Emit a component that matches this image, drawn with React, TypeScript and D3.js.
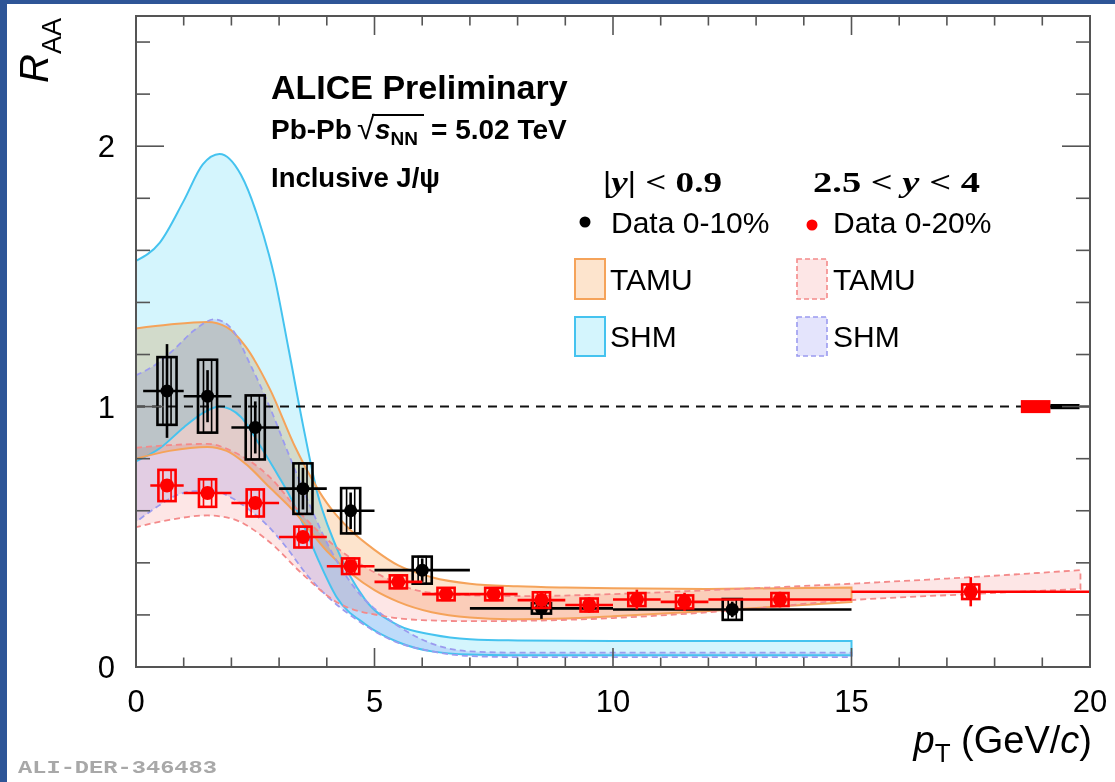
import React from 'react';
import * as d3 from 'd3';

const W = 1115;
const H = 782;

// ---------- Data: |y| < 0.9, 0-10% ----------
const midPt = [0.65, 1.5, 2.5, 3.5, 4.5, 6.0, 8.5, 12.5];
const midLo = [0.15, 1, 2, 3, 4, 5, 7, 10];
const midHi = [1, 2, 3, 4, 5, 7, 10, 15];
const midRaa = [1.06, 1.04, 0.92, 0.685, 0.6, 0.372, 0.225, 0.221];
const midStat = [0.18, 0.1, 0.1, 0.08, 0.07, 0.045, 0.04, 0.03];
const midSyst = [0.13, 0.14, 0.123, 0.097, 0.087, 0.052, 0.02, 0.04];

// ---------- Data: 2.5 < y < 4, 0-20% ----------
const fwdPt = [0.65, 1.5, 2.5, 3.5, 4.5, 5.5, 6.5, 7.5, 8.5, 9.5, 10.5, 11.5, 13.5, 17.5];
const fwdLo = [0.3, 1, 2, 3, 4, 5, 6, 7, 8, 9, 10, 11, 12, 15];
const fwdHi = [1, 2, 3, 4, 5, 6, 7, 8, 9, 10, 11, 12, 15, 20];
const fwdRaa = [0.697, 0.668, 0.63, 0.499, 0.387, 0.327, 0.28, 0.28, 0.257, 0.238, 0.259, 0.25, 0.259, 0.289];
const fwdStat = [0.02, 0.02, 0.02, 0.02, 0.02, 0.02, 0.02, 0.02, 0.03, 0.03, 0.038, 0.035, 0.03, 0.056];
const fwdSyst = [0.06, 0.053, 0.052, 0.04, 0.03, 0.025, 0.024, 0.024, 0.03, 0.025, 0.025, 0.025, 0.025, 0.028];

// Global uncertainties at R_AA = 1
const globFwd = { lo: 18.55, hi: 19.17, err: 0.025 };
const globMid = { lo: 19.17, hi: 19.78, err: 0.01 };

// ---------- Model bands ----------
// SHM, |y|<0.9
const shmMidX = [0, 0.5, 1.0, 1.4, 1.75, 2.2, 2.55, 2.9, 3.2, 3.5, 3.8, 4.2, 4.8, 5.5, 6.2, 7, 8, 10, 12, 15];
const shmMidHi = [1.56, 1.63, 1.79, 1.93, 1.97, 1.89, 1.73, 1.5, 1.22, 0.93, 0.67, 0.46, 0.26, 0.16, 0.125, 0.107, 0.102, 0.1, 0.1, 0.1];
const shmMidLo = [0.79, 0.84, 0.92, 0.975, 1.0, 0.96, 0.865, 0.76, 0.665, 0.55, 0.42, 0.27, 0.165, 0.095, 0.06, 0.048, 0.045, 0.045, 0.045, 0.045];

// SHM, 2.5<y<4
const shmFwdX = [0, 0.4, 0.8, 1.2, 1.65, 2.0, 2.4, 2.8, 3.15, 3.6, 4.05, 4.6, 5.4, 6.2, 7, 8, 10, 12, 15];
const shmFwdHi = [1.12, 1.16, 1.22, 1.29, 1.335, 1.3, 1.16, 1.0, 0.84, 0.64, 0.46, 0.3, 0.17, 0.09, 0.06, 0.055, 0.055, 0.055, 0.055];
const shmFwdLo = [0.557, 0.61, 0.655, 0.675, 0.675, 0.65, 0.6, 0.535, 0.46, 0.35, 0.265, 0.185, 0.1, 0.06, 0.042, 0.038, 0.038, 0.038, 0.038];

// TAMU, |y|<0.9
const tamuMidX = [0, 0.7, 1.5, 1.9, 2.3, 2.8, 3.35, 4.0, 4.5, 5.0, 5.5, 6.2, 7, 8, 9, 10, 12, 15];
const tamuMidHi = [1.3, 1.315, 1.325, 1.305, 1.23, 1.07, 0.84, 0.63, 0.525, 0.45, 0.39, 0.345, 0.32, 0.31, 0.305, 0.302, 0.3, 0.305];
const tamuMidLo = [0.8, 0.83, 0.845, 0.83, 0.78, 0.69, 0.59, 0.445, 0.36, 0.295, 0.25, 0.21, 0.19, 0.183, 0.186, 0.195, 0.215, 0.25];

// TAMU, 2.5<y<4
const tamuFwdX = [0, 0.7, 1.5, 2.0, 2.8, 3.5, 4.2, 5.2, 6.0, 7, 8, 10, 12, 15, 17.5, 19.8];
const tamuFwdHi = [0.842, 0.852, 0.857, 0.83, 0.73, 0.58, 0.46, 0.345, 0.29, 0.275, 0.272, 0.28, 0.295, 0.32, 0.345, 0.372];
const tamuFwdLo = [0.537, 0.565, 0.582, 0.57, 0.48, 0.355, 0.25, 0.195, 0.18, 0.176, 0.177, 0.188, 0.21, 0.257, 0.28, 0.3];

// Axis ticks
const xTickLabels = [0, 5, 10, 15, 20];
const yTickLabels = [0, 1, 2];

const SANS = '"Liberation Sans", Arial, Helvetica, sans-serif';
const SERIF = '"Liberation Serif", "Times New Roman", serif';

const x = d3.scaleLinear().domain([0, 20]).range([136, 1090]);
const y = d3.scaleLinear().domain([0, 2.5]).range([667, 16]);

const C = {
  cyanFill: 'rgb(212,245,253)',
  cyanLine: '#45c3ef',
  orangeFill: 'rgb(253,228,205)',
  orangeLine: '#f5a35a',
  pinkFill: 'rgb(253,230,230)',
  pinkLine: '#f48a8a',
  purpleFill: 'rgb(228,228,252)',
  purpleLine: '#9b9bef',
  red: '#ff0000',
  frame: '#555',
};

function bandPath(xs: number[], lo: number[], hi: number[]) {
  const a = d3
    .area<number>()
    .x((d) => x(d))
    .y0((_, i) => y(lo[i]))
    .y1((_, i) => y(hi[i]))
    .curve(d3.curveMonotoneX);
  return a(xs) || '';
}

const bands = [
  { xs: shmMidX, lo: shmMidLo, hi: shmMidHi, fill: C.cyanFill, line: C.cyanLine, dash: undefined },
  { xs: tamuMidX, lo: tamuMidLo, hi: tamuMidHi, fill: C.orangeFill, line: C.orangeLine, dash: undefined },
  { xs: shmFwdX, lo: shmFwdLo, hi: shmFwdHi, fill: C.purpleFill, line: C.purpleLine, dash: '6,4' },
  { xs: tamuFwdX, lo: tamuFwdLo, hi: tamuFwdHi, fill: C.pinkFill, line: C.pinkLine, dash: '6,4' },
];

function Points({ pt, lo, hi, raa, stat, syst, color, boxHalf, r }: any) {
  return (
    <g>
      {pt.map((p: number, i: number) => {
        const cx = x(p);
        const cy = y(raa[i]);
        const bw = x(p + boxHalf) - cx;
        const iw = x(p + 0.085) - cx;
        const top = y(raa[i] + syst[i]);
        const bot = y(raa[i] - syst[i]);
        return (
          <g key={i}>
            <rect x={cx - bw} y={top} width={2 * bw} height={bot - top} fill="none" stroke={color} strokeWidth={2.6} />
            <rect x={cx - iw} y={top} width={2 * iw} height={bot - top} fill="none" stroke={color} strokeWidth={1.6} />
            <line x1={x(lo[i])} x2={x(hi[i])} y1={cy} y2={cy} stroke={color} strokeWidth={2.6} />
            <line x1={cx} x2={cx} y1={y(raa[i] + stat[i])} y2={y(raa[i] - stat[i])} stroke={color} strokeWidth={2.6} />
            <circle cx={cx} cy={cy} r={r} fill={color} />
          </g>
        );
      })}
    </g>
  );
}

export default function App() {
  const xMinor = d3.range(0, 21, 1);
  const yMinor = d3.range(0, 2.41, 0.2);
  return (
    <svg
      width={W}
      height={H}
      viewBox={`0 0 ${W} ${H}`}
      style={{ position: 'absolute', left: 0, top: 0, display: 'block' }}
    >
      <rect x={0} y={0} width={W} height={H} fill="#2e5597" />
      <rect x={7} y={4} width={W - 7} height={H - 4} fill="#fff" />

      {/* model bands */}
      <g>
        {bands.map((b, i) => (
          <path key={'f' + i} d={bandPath(b.xs, b.lo, b.hi)} fill={b.fill} stroke="none" style={{ mixBlendMode: 'multiply' }} />
        ))}
        {bands.map((b, i) => (
          <path
            key={'s' + i}
            d={bandPath(b.xs, b.lo, b.hi)}
            fill="none"
            stroke={b.line}
            strokeWidth={b.dash ? 1.8 : 2}
            strokeDasharray={b.dash}
          />
        ))}
      </g>

      {/* unity line */}
      <line x1={x(0)} x2={x(20)} y1={y(1)} y2={y(1)} stroke="#111" strokeWidth={2} strokeDasharray="9,7" />

      {/* data */}
      <Points pt={midPt} lo={midLo} hi={midHi} raa={midRaa} stat={midStat} syst={midSyst} color="#000" boxHalf={0.2} r={6.5} />
      <Points pt={fwdPt} lo={fwdLo} hi={fwdHi} raa={fwdRaa} stat={fwdStat} syst={fwdSyst} color={C.red} boxHalf={0.18} r={7} />

      {/* global uncertainties */}
      <rect x={x(globFwd.lo)} y={y(1 + globFwd.err)} width={x(globFwd.hi) - x(globFwd.lo)} height={y(1 - globFwd.err) - y(1 + globFwd.err)} fill={C.red} />
      <rect x={x(globMid.lo)} y={y(1 + globMid.err)} width={x(globMid.hi) - x(globMid.lo)} height={y(1 - globMid.err) - y(1 + globMid.err)} fill="#000" />

      {/* frame and ticks */}
      <rect x={x(0)} y={y(2.5)} width={x(20) - x(0)} height={y(0) - y(2.5)} fill="none" stroke={C.frame} strokeWidth={2} />
      {xMinor.map((v) => {
        const len = v % 5 === 0 ? 19 : 9.5;
        return (
          <g key={'xt' + v}>
            <line x1={x(v)} x2={x(v)} y1={y(0)} y2={y(0) - len} stroke={C.frame} strokeWidth={1.6} />
            <line x1={x(v)} x2={x(v)} y1={y(2.5)} y2={y(2.5) + len} stroke={C.frame} strokeWidth={1.6} />
          </g>
        );
      })}
      {yMinor.map((v) => {
        const major = Math.abs(v - Math.round(v)) < 1e-6;
        const len = major ? 28 : 14;
        return (
          <g key={'yt' + v}>
            <line x1={x(0)} x2={x(0) + len} y1={y(v)} y2={y(v)} stroke={C.frame} strokeWidth={1.6} />
            <line x1={x(20)} x2={x(20) - len} y1={y(v)} y2={y(v)} stroke={C.frame} strokeWidth={1.6} />
          </g>
        );
      })}

      {/* tick labels */}
      {xTickLabels.map((v) => (
        <text key={'xl' + v} x={x(v)} y={712} textAnchor="middle" fontFamily={SANS} fontSize={31} fill="#000">
          {v}
        </text>
      ))}
      {yTickLabels.map((v) => (
        <text key={'yl' + v} x={115} y={y(v) + 11} textAnchor="end" fontFamily={SANS} fontSize={31} fill="#000">
          {v}
        </text>
      ))}

      {/* axis titles */}
      <text transform="translate(48,83) rotate(-90)" fontFamily={SANS} fontSize={40} fill="#000">
        <tspan fontStyle="italic">R</tspan>
        <tspan fontSize={27} dy={13}>AA</tspan>
      </text>
      <text x={1092} y={753} textAnchor="end" fontFamily={SANS} fontSize={38} fill="#000">
        <tspan fontStyle="italic">p</tspan>
        <tspan fontSize={26} dy={9}>T</tspan>
        <tspan dy={-9}> (GeV/</tspan>
        <tspan fontStyle="italic">c</tspan>
        <tspan>)</tspan>
      </text>

      {/* header texts */}
      <text x={271} y={99} fontFamily={SANS} fontWeight="bold" fontSize={34} fill="#000">
        ALICE Preliminary
      </text>
      <text y={139} fontFamily={SANS} fontWeight="bold" fontSize={28} fill="#000">
        <tspan x={271}>Pb-Pb</tspan>
        <tspan x={357} fontWeight="normal" fontSize={32}>√</tspan>
        <tspan x={375} fontStyle="italic">s</tspan>
        <tspan fontSize={19} dy={6}>NN</tspan>
        <tspan x={431} dy={-6}>= 5.02 TeV</tspan>
      </text>
      <line x1={372} x2={424} y1={115} y2={115} stroke="#000" strokeWidth={1.8} />
      <text x={271} y={187} fontFamily={SANS} fontWeight="bold" fontSize={27.5} fill="#000">
        Inclusive J/ψ
      </text>

      {/* legend */}
      <text x={603} y={192} fontFamily={SERIF} fontWeight="bold" fontSize={30} fill="#000" textLength={119} lengthAdjust="spacingAndGlyphs">
        |<tspan fontStyle="italic">y</tspan>| &lt; 0.9
      </text>
      <text x={813} y={192} fontFamily={SERIF} fontWeight="bold" fontSize={30} fill="#000" textLength={167} lengthAdjust="spacingAndGlyphs">
        2.5 &lt;  <tspan fontStyle="italic">y</tspan> &lt; 4
      </text>

      <circle cx={585} cy={222} r={5.5} fill="#000" />
      <text x={611} y={233} fontFamily={SANS} fontSize={30} fill="#000">Data 0-10%</text>
      <circle cx={812} cy={225} r={5.5} fill={C.red} />
      <text x={833} y={233} fontFamily={SANS} fontSize={30} fill="#000">Data 0-20%</text>

      <rect x={575} y={259} width={30} height={40} fill={C.orangeFill} stroke={C.orangeLine} strokeWidth={2} />
      <text x={610} y={290} fontFamily={SANS} fontSize={30} fill="#000">TAMU</text>
      <rect x={797} y={259} width={30} height={40} fill={C.pinkFill} stroke={C.pinkLine} strokeWidth={1.6} strokeDasharray="5,3" />
      <text x={833} y={290} fontFamily={SANS} fontSize={30} fill="#000">TAMU</text>

      <rect x={575} y={317} width={30} height={39} fill={C.cyanFill} stroke={C.cyanLine} strokeWidth={2} />
      <text x={610} y={347} fontFamily={SANS} fontSize={30} fill="#000">SHM</text>
      <rect x={797} y={317} width={30} height={39} fill={C.purpleFill} stroke={C.purpleLine} strokeWidth={1.6} strokeDasharray="5,3" />
      <text x={833} y={347} fontFamily={SANS} fontSize={30} fill="#000">SHM</text>

      {/* figure id */}
      <text x={18} y={773} fontFamily={'"Liberation Mono", "DejaVu Sans Mono", monospace'} fontWeight="bold" fontSize={19} fill="#a8a8a8" textLength={199} lengthAdjust="spacingAndGlyphs">
        ALI-DER-346483
      </text>
    </svg>
  );
}
